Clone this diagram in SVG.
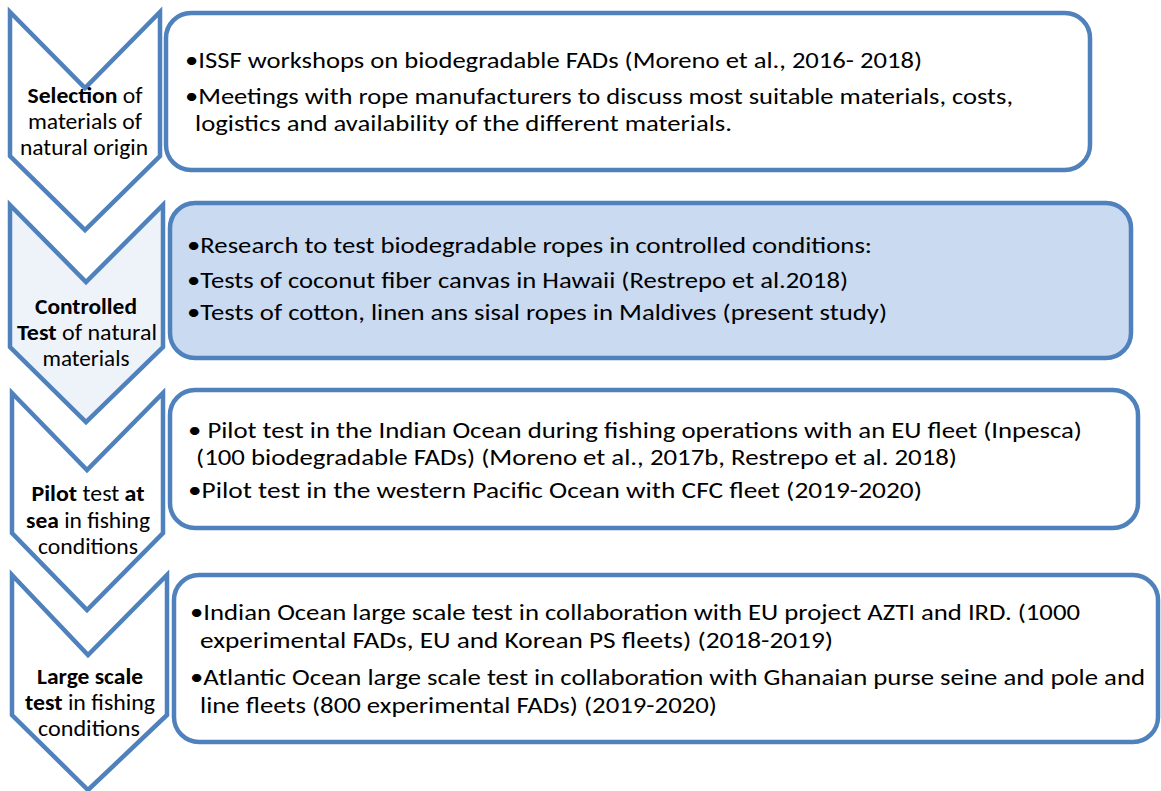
<svg xmlns="http://www.w3.org/2000/svg" width="1161" height="791" viewBox="0 0 1161 791">
<style>
.chev{fill:#ffffff;stroke:#4F81BD;stroke-width:4.5;stroke-linejoin:miter}
.chev2{fill:#EEF3FA}
.box{fill:#ffffff;stroke:#4F81BD;stroke-width:4.5}
.box2{fill:#C9DAF1}
.t{font-family:Carlito,Lato,"Liberation Sans",sans-serif;font-size:23px;fill:#000}
.l{font-family:Carlito,Lato,"Liberation Sans",sans-serif;font-size:22px;fill:#000;text-anchor:middle}
.b{font-weight:bold}
</style>
<rect width="1161" height="791" fill="#ffffff"/>
<g id="connectors"></g>
<g id="step1">
<polygon class="chev" points="10,12 85,88 160,12 160,156 85,230 10,156"/>
<text class="l" x="85" y="103" textLength="115" lengthAdjust="spacingAndGlyphs"><tspan class="b">Selection</tspan> of</text>
<text class="l" x="85" y="129" textLength="114" lengthAdjust="spacingAndGlyphs">materials of</text>
<text class="l" x="84" y="155" textLength="128" lengthAdjust="spacingAndGlyphs">natural origin</text>
</g>
<g id="box1">
<rect class="box" x="166" y="13" width="924" height="157" rx="25"/>
<text class="t" x="185" y="68" textLength="737" lengthAdjust="spacingAndGlyphs">•ISSF workshops on biodegradable FADs (Moreno et al., 2016- 2018)</text>
<text class="t" x="185" y="104" textLength="828" lengthAdjust="spacingAndGlyphs">•Meetings with rope manufacturers to discuss most suitable materials, costs,</text>
<text class="t" x="195" y="131" textLength="537" lengthAdjust="spacingAndGlyphs">logistics and availability of the different materials.</text>
</g>
<g id="step2">
<polygon class="chev chev2" points="10,205 86,282 163,205 163,347 86,422 10,347"/>
<text class="l b" x="86" y="314" textLength="102" lengthAdjust="spacingAndGlyphs">Controlled</text>
<text class="l" x="87" y="340" textLength="140" lengthAdjust="spacingAndGlyphs"><tspan class="b">Test</tspan> of natural</text>
<text class="l" x="86" y="366" textLength="87" lengthAdjust="spacingAndGlyphs">materials</text>
</g>
<g id="box2">
<rect class="box box2" x="170" y="203" width="961" height="155" rx="25"/>
<text class="t" x="187" y="253" textLength="685" lengthAdjust="spacingAndGlyphs">•Research to test biodegradable ropes in controlled conditions:</text>
<text class="t" x="187" y="288" textLength="661" lengthAdjust="spacingAndGlyphs">•Tests of coconut fiber canvas in Hawaii (Restrepo et al.2018)</text>
<text class="t" x="187" y="320" textLength="700" lengthAdjust="spacingAndGlyphs">•Tests of cotton, linen ans sisal ropes in Maldives (present study)</text>
</g>
<g id="step3">
<polygon class="chev" points="12,393 87,470 163,393 163,533 87,610 12,533"/>
<text class="l" x="88" y="501" textLength="113" lengthAdjust="spacingAndGlyphs"><tspan class="b">Pilot</tspan> test <tspan class="b">at</tspan></text>
<text class="l" x="88" y="528" textLength="124" lengthAdjust="spacingAndGlyphs"><tspan class="b">sea</tspan> in fishing</text>
<text class="l" x="88" y="554" textLength="100" lengthAdjust="spacingAndGlyphs">conditions</text>
</g>
<g id="box3">
<rect class="box" x="170" y="390" width="968" height="138" rx="25"/>
<text class="t" x="188" y="438" textLength="894" lengthAdjust="spacingAndGlyphs">• Pilot test in the Indian Ocean during fishing operations with an EU fleet (Inpesca)</text>
<text class="t" x="196" y="465" textLength="761" lengthAdjust="spacingAndGlyphs">(100 biodegradable FADs) (Moreno et al., 2017b, Restrepo et al. 2018)</text>
<text class="t" x="188" y="498" textLength="734" lengthAdjust="spacingAndGlyphs">•Pilot test in the western Pacific Ocean with CFC fleet (2019-2020)</text>
</g>
<g id="step4">
<polygon class="chev" points="12,575 88,655 167,575 167,715 88,790 12,715"/>
<text class="l b" x="90" y="684" textLength="106" lengthAdjust="spacingAndGlyphs">Large scale</text>
<text class="l" x="90" y="710" textLength="130" lengthAdjust="spacingAndGlyphs"><tspan class="b">test</tspan> in fishing</text>
<text class="l" x="89" y="736" textLength="102" lengthAdjust="spacingAndGlyphs">conditions</text>
</g>
<g id="box4">
<rect class="box" x="174" y="575" width="984" height="167" rx="25"/>
<text class="t" x="190" y="620" textLength="890" lengthAdjust="spacingAndGlyphs">•Indian Ocean large scale test in collaboration with EU project AZTI and IRD. (1000</text>
<text class="t" x="200" y="648" textLength="633" lengthAdjust="spacingAndGlyphs">experimental FADs, EU and Korean PS fleets) (2018-2019)</text>
<text class="t" x="190" y="685" textLength="955" lengthAdjust="spacingAndGlyphs">•Atlantic Ocean large scale test in collaboration with Ghanaian purse seine and pole and</text>
<text class="t" x="200" y="713" textLength="517" lengthAdjust="spacingAndGlyphs">line fleets (800 experimental FADs) (2019-2020)</text>
</g>
</svg>
